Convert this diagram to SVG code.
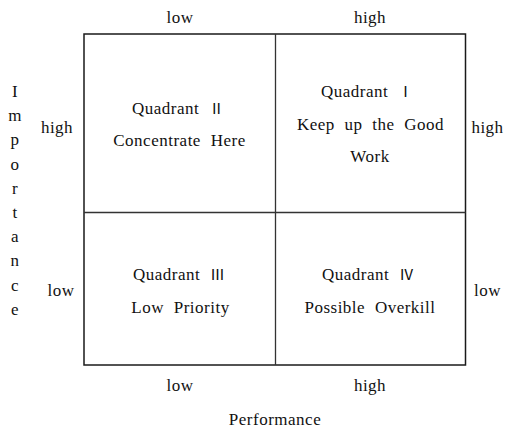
<svg xmlns="http://www.w3.org/2000/svg" width="506" height="432" viewBox="0 0 506 432">
<style>
text{font-family:'Liberation Serif','DejaVu Serif',serif;font-size:17px;fill:#111;text-anchor:middle;letter-spacing:0.5px}
.q{word-spacing:5px}
.rn{font-family:'Noto Sans CJK KR','DejaVu Sans',sans-serif;font-size:15px;letter-spacing:0}
.outer{fill:none;stroke:#1a1a1a;stroke-width:1.5}
.inner{fill:none;stroke:#333;stroke-width:1.3}
</style>
<rect width="506" height="432" fill="#fff"/>
<g id="grid">
<rect class="outer" x="84" y="34" width="381.5" height="331"/>
<line class="inner" x1="275.5" y1="34" x2="275.5" y2="365"/>
<line class="inner" x1="84" y1="212.5" x2="465.5" y2="212.5"/>
</g>
<g id="quadrant-2">
<text class="q" x="178" y="114">Quadrant <tspan class="rn">Ⅱ</tspan></text>
<text class="q" x="179.5" y="145.5">Concentrate Here</text>
</g>
<g id="quadrant-1">
<text class="q" x="367" y="97">Quadrant <tspan class="rn">Ⅰ</tspan></text>
<text class="q" x="370.5" y="129.5">Keep up the Good</text>
<text class="q" x="370" y="162">Work</text>
</g>
<g id="quadrant-3">
<text class="q" x="179" y="280">Quadrant <tspan class="rn">Ⅲ</tspan></text>
<text class="q" x="180.5" y="312.5">Low Priority</text>
</g>
<g id="quadrant-4">
<text class="q" x="368" y="280">Quadrant <tspan class="rn">Ⅳ</tspan></text>
<text class="q" x="370" y="312.5">Possible Overkill</text>
</g>
<g id="axis-labels">
<text x="180" y="23">low</text>
<text x="370" y="23">high</text>
<text x="180" y="391">low</text>
<text x="370" y="391">high</text>
<text x="275" y="425">Performance</text>
<text x="57" y="133">high</text>
<text x="61" y="295.5">low</text>
<text x="487.5" y="133">high</text>
<text x="487.5" y="295.5">low</text>
</g>
<g id="importance">
<text x="15" y="97">I</text>
<text x="15" y="121.2">m</text>
<text x="15" y="145.4">p</text>
<text x="15" y="169.6">o</text>
<text x="15" y="193.8">r</text>
<text x="15" y="218">t</text>
<text x="15" y="242.2">a</text>
<text x="15" y="266.4">n</text>
<text x="15" y="290.6">c</text>
<text x="15" y="314.8">e</text>
</g>
</svg>
